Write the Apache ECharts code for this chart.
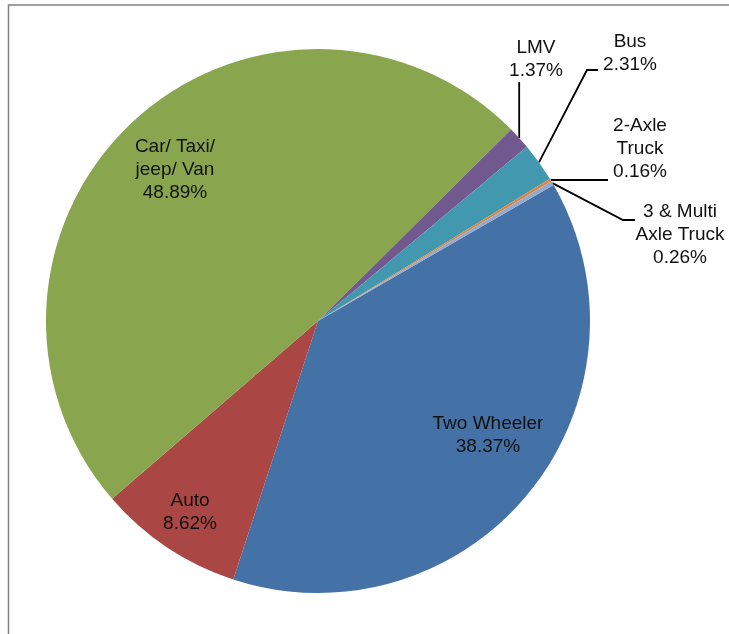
<!DOCTYPE html>
<html>
<head>
<meta charset="utf-8">
<script src="https://cdn.jsdelivr.net/npm/echarts@6/dist/echarts.min.js"></script>
<style>
  html, body { margin: 0; padding: 0; background: #fff; }
  #chart { width: 729px; height: 634px; }
</style>
</head>
<body>
<div id="chart"></div>
<script>
const categories = ['Two Wheeler', 'Auto', 'Car/ Taxi/ jeep/ Van', 'LMV', 'Bus', '2-Axle Truck', '3 & Multi Axle Truck'];
const labelNames = ['Two Wheeler', 'Auto', 'Car/ Taxi/\njeep/ Van', 'LMV', 'Bus', '2-Axle\nTruck', '3 & Multi\nAxle Truck'];
const shares = [38.37, 8.62, 48.89, 1.37, 2.31, 0.16, 0.26];
const colors = ['#4471A6', '#AA4643', '#89A54E', '#71588F', '#4198AF', '#DB843D', '#93A9CF'];
const outsideLabels = ['LMV', 'Bus', '2-Axle Truck', '3 & Multi Axle Truck'];

// label text centres; leader = points after the slice edge (null -> reuse start coord)
const labelPlace = {
  'Two Wheeler': { x: 488, y: 435 },
  'Auto': { x: 190, y: 512 },
  'Car/ Taxi/ jeep/ Van': { x: 175, y: 170 },
  'LMV': { x: 536, y: 59, leader: [[null, 82], [null, 82]] },
  'Bus': { x: 630, y: 53, leader: [[587, 70], [598, 70]] },
  '2-Axle Truck': { x: 640, y: 149, leader: [[608, null], [608, null]] },
  '3 & Multi Axle Truck': { x: 680, y: 235, leader: [[623, 220], [635, 220]] }
};

const chart = echarts.init(document.getElementById('chart'));

chart.setOption({
  animation: false,
  backgroundColor: '#fff',
  graphic: [{
    type: 'rect',
    silent: true,
    z: -1,
    shape: { x: 8.5, y: 5, width: 760, height: 660 },
    style: { fill: 'none', stroke: '#808080', lineWidth: 1.5 }
  }],
  series: [{
    type: 'pie',
    center: [318, 321],
    radius: 272,
    startAngle: 30,
    clockwise: true,
    avoidLabelOverlap: false,
    itemStyle: { borderWidth: 0 },
    label: {
      color: '#111',
      fontFamily: 'Liberation Sans, Arial, sans-serif',
      fontSize: 19,
      lineHeight: 23,
      formatter: (p) => labelNames[p.dataIndex] + '\n' + p.value.toFixed(2) + '%'
    },
    labelLine: {
      lineStyle: { color: '#000', width: 1.8 }
    },
    labelLayout: (p) => {
      const place = labelPlace[categories[p.dataIndex]];
      const out = { x: place.x, y: place.y, align: 'center', verticalAlign: 'middle' };
      if (place.leader && p.labelLinePoints) {
        const start = p.labelLinePoints[0].slice();
        out.labelLinePoints = [start].concat(place.leader.map((pt) => [
          pt[0] == null ? start[0] : pt[0],
          pt[1] == null ? start[1] : pt[1]
        ]));
      }
      return out;
    },
    data: categories.map((name, i) => {
      const outside = outsideLabels.includes(name);
      return {
        name: name,
        value: shares[i],
        itemStyle: { color: colors[i] },
        label: { position: outside ? 'outside' : 'inside' },
        labelLine: { show: outside }
      };
    })
  }]
});
</script>
</body>
</html>
